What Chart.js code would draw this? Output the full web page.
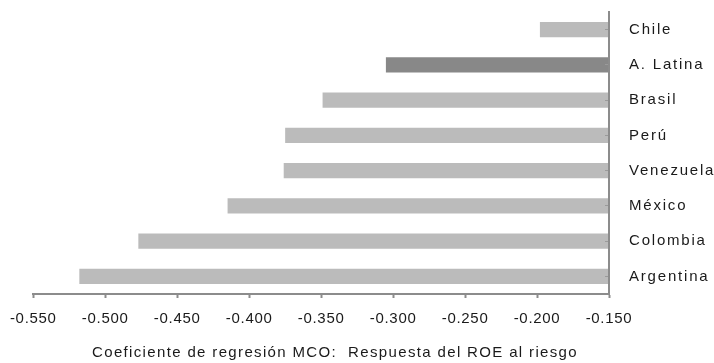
<!DOCTYPE html>
<html>
<head>
<meta charset="utf-8">
<script src="https://cdn.jsdelivr.net/npm/chart.js@4.4.1/dist/chart.umd.min.js"></script>
<style>
  html, body { margin: 0; padding: 0; background: #ffffff; }
  canvas { display: block; }
</style>
</head>
<body>
<canvas id="chart" width="714" height="363"></canvas>
<script>
// Regression coefficients (OLS): response of ROE to risk, by country
const countries = ['Chile', 'A. Latina', 'Brasil', 'Perú', 'Venezuela', 'México', 'Colombia', 'Argentina'];
const coefficients = [-0.198, -0.305, -0.349, -0.375, -0.376, -0.415, -0.477, -0.518];
const regionalAggregate = 'A. Latina';
const xTickValues = [-0.550, -0.500, -0.450, -0.400, -0.350, -0.300, -0.250, -0.200, -0.150];
const axisTitle = 'Coeficiente de regresión MCO:  Respuesta del ROE al riesgo';

const FONT_FAMILY = "'Liberation Sans', Arial, sans-serif";
const TEXT_COLOR = '#1a1a1a';
const AXIS_COLOR = '#8c8c8c';
const BAR_COLOR = '#bbbbbb';
const AGGREGATE_COLOR = '#888888';

// Wrap a scale's label drawing so its text is tracked out a little
function spaceLabels(scale, px) {
  if (!scale || scale.drawLabels._spaced) return;
  const original = scale.drawLabels;
  const wrapped = function (area) {
    const ctx = this.ctx;
    ctx.save();
    ctx.letterSpacing = px + 'px';
    original.call(this, area);
    ctx.restore();
  };
  wrapped._spaced = true;
  scale.drawLabels = wrapped;
}

const labelSpacing = {
  id: 'labelSpacing',
  afterLayout(chart) {
    spaceLabels(chart.scales.x, 0.7);
    spaceLabels(chart.scales.y, 1.8);
  }
};

// Axis caption under the value axis
const valueAxisCaption = {
  id: 'valueAxisCaption',
  afterDraw(chart) {
    const ctx = chart.ctx;
    ctx.save();
    ctx.font = '15px ' + FONT_FAMILY;
    ctx.letterSpacing = '1.35px';
    ctx.fillStyle = TEXT_COLOR;
    ctx.textAlign = 'center';
    ctx.textBaseline = 'middle';
    ctx.fillText(axisTitle, 335, 353);
    ctx.restore();
  }
};

new Chart(document.getElementById('chart'), {
  type: 'bar',
  data: {
    labels: countries,
    datasets: [{
      data: coefficients,
      backgroundColor: countries.map(c => c === regionalAggregate ? AGGREGATE_COLOR : BAR_COLOR),
      borderWidth: 0,
      categoryPercentage: 1,
      barPercentage: 0.43
    }]
  },
  options: {
    indexAxis: 'y',
    responsive: false,
    animation: false,
    devicePixelRatio: 1,
    layout: { padding: { left: 32, top: 12, right: 0, bottom: 0 } },
    plugins: {
      legend: { display: false },
      tooltip: { enabled: false },
      title: { display: false }
    },
    scales: {
      x: {
        type: 'linear',
        position: 'bottom',
        min: -0.55,
        max: -0.15,
        afterBuildTicks(scale) {
          scale.ticks = xTickValues.map(v => ({ value: v }));
        },
        afterFit(scale) { scale.height = 69; },
        ticks: {
          padding: 12,
          color: TEXT_COLOR,
          font: { family: FONT_FAMILY, size: 15 },
          callback: v => Number(v).toFixed(3),
          maxRotation: 0,
          autoSkip: false
        },
        grid: {
          drawOnChartArea: false,
          drawTicks: true,
          tickLength: 4,
          tickWidth: 2,
          tickColor: AXIS_COLOR,
          z: 1
        },
        border: { display: true, color: AXIS_COLOR, width: 2, z: 1 }
      },
      y: {
        type: 'category',
        position: 'right',
        offset: true,
        afterFit(scale) {
          scale.width = 105;
          scale.paddingTop = 0;
          scale.paddingBottom = 0;
        },
        ticks: {
          padding: 24,
          color: TEXT_COLOR,
          font: { family: FONT_FAMILY, size: 15 },
          autoSkip: false
        },
        grid: {
          offset: false,
          drawOnChartArea: false,
          drawTicks: true,
          tickLength: -4,
          tickWidth: 1,
          tickColor: '#9a9a9a',
          z: 1
        },
        border: { display: true, color: AXIS_COLOR, width: 2, z: 1 }
      }
    }
  },
  plugins: [labelSpacing, valueAxisCaption]
});
</script>
</body>
</html>
